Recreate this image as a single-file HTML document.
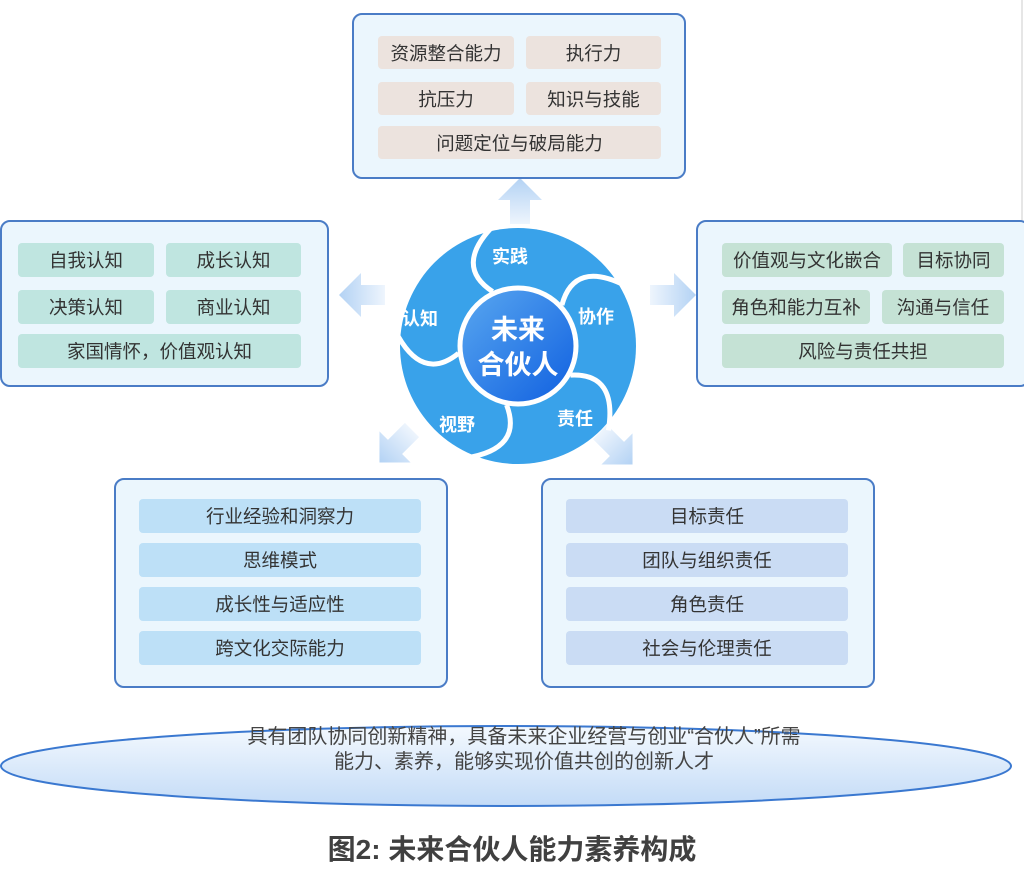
<!DOCTYPE html>
<html><head><meta charset="utf-8"><style>
body{margin:0;width:1024px;height:869px;background:#fff;position:relative;overflow:hidden;font-family:"Liberation Sans","Noto Sans CJK SC",sans-serif;}
.box{position:absolute;border:2px solid #4a7cc6;border-radius:10px;background:#ebf6fd;box-sizing:border-box;}
.c{position:absolute;border-radius:4px;font-size:18.5px;color:#333;display:flex;align-items:center;justify-content:center;}
.t{background:#ece3de}.l{background:#bfe5e0}.r{background:#c5e2d5}.bl{background:#bde0f7}.br{background:#cadcf4}
.txt{position:absolute;width:1024px;text-align:center;color:#444;}
</style></head><body>
<svg width="1024" height="869" style="position:absolute;left:0;top:0">
<defs>
<linearGradient id="ag" x1="0" y1="0" x2="0" y2="1"><stop offset="0" stop-color="#b3d2f4"/><stop offset="1" stop-color="#eef5fd"/></linearGradient>
<linearGradient id="cg" x1="0" y1="0" x2="1" y2="1"><stop offset="0" stop-color="#5aa8f0"/><stop offset="1" stop-color="#0f5fe0"/></linearGradient>
<linearGradient id="eg" x1="0" y1="0" x2="0" y2="1"><stop offset="0" stop-color="#f4f9fe"/><stop offset="1" stop-color="#c3dbf7"/></linearGradient>
<path id="arr" d="M-10 0 L-10 -24 L-22 -24 L0 -46 L22 -24 L10 -24 L10 0 Z" fill="url(#ag)"/>
</defs>
<ellipse cx="506" cy="766" rx="505" ry="40" fill="url(#eg)" stroke="#3a78d0" stroke-width="2"/>
<line x1="1022" y1="0" x2="1022" y2="220" stroke="#ccc" stroke-width="1"/>
<use href="#arr" transform="translate(520,224)"/>
<use href="#arr" transform="translate(385,295) rotate(-90)"/>
<use href="#arr" transform="translate(650,295) rotate(90)"/>
<use href="#arr" transform="translate(412,430) rotate(-135)"/>
<use href="#arr" transform="translate(600,432) rotate(135)"/>
<circle cx="518" cy="346" r="118" fill="#39a2ea"/>
<g stroke="#fff" stroke-width="5" fill="none" transform="translate(518,346)">
<g transform="rotate(-115)"><path d="M60 0 Q 100 -25 120 30"/></g>
<g transform="rotate(-43)"><path d="M60 0 Q 100 -25 120 30"/></g>
<g transform="rotate(29)"><path d="M60 0 Q 100 -25 120 30"/></g>
<g transform="rotate(101)"><path d="M60 0 Q 100 -25 120 30"/></g>
<g transform="rotate(173)"><path d="M60 0 Q 100 -25 120 30"/></g>
</g>
<circle cx="518" cy="346" r="58" fill="url(#cg)" stroke="#fff" stroke-width="5"/>
<g font-size="18" font-weight="bold" fill="#fff" text-anchor="middle" font-family="Liberation Sans,Noto Sans CJK SC,sans-serif">
<text x="510" y="263">实践</text><text x="596" y="323">协作</text><text x="575" y="425">责任</text><text x="457" y="431">视野</text><text x="420" y="325">认知</text>
<text x="518" y="339" font-size="27">未来</text><text x="518" y="374" font-size="27">合伙人</text>
</g>
</svg>
<div class="box" style="left:352px;top:13px;width:334px;height:166px"></div>
<div class="c t" style="left:378px;top:36px;width:136px;height:33px">资源整合能力</div>
<div class="c t" style="left:526px;top:36px;width:135px;height:33px">执行力</div>
<div class="c t" style="left:378px;top:82px;width:136px;height:33px">抗压力</div>
<div class="c t" style="left:526px;top:82px;width:135px;height:33px">知识与技能</div>
<div class="c t" style="left:378px;top:126px;width:283px;height:33px">问题定位与破局能力</div>

<div class="box" style="left:0;top:220px;width:329px;height:167px"></div>
<div class="c l" style="left:18px;top:243px;width:136px;height:34px">自我认知</div>
<div class="c l" style="left:166px;top:243px;width:135px;height:34px">成长认知</div>
<div class="c l" style="left:18px;top:290px;width:136px;height:34px">决策认知</div>
<div class="c l" style="left:166px;top:290px;width:135px;height:34px">商业认知</div>
<div class="c l" style="left:18px;top:334px;width:283px;height:34px">家国情怀，价值观认知</div>

<div class="box" style="left:696px;top:220px;width:334px;height:167px"></div>
<div class="c r" style="left:722px;top:243px;width:170px;height:34px">价值观与文化嵌合</div>
<div class="c r" style="left:903px;top:243px;width:101px;height:34px">目标协同</div>
<div class="c r" style="left:722px;top:290px;width:148px;height:34px">角色和能力互补</div>
<div class="c r" style="left:882px;top:290px;width:122px;height:34px">沟通与信任</div>
<div class="c r" style="left:722px;top:334px;width:282px;height:34px">风险与责任共担</div>

<div class="box" style="left:114px;top:478px;width:334px;height:210px"></div>
<div class="c bl" style="left:139px;top:499px;width:282px;height:34px">行业经验和洞察力</div>
<div class="c bl" style="left:139px;top:543px;width:282px;height:34px">思维模式</div>
<div class="c bl" style="left:139px;top:587px;width:282px;height:34px">成长性与适应性</div>
<div class="c bl" style="left:139px;top:631px;width:282px;height:34px">跨文化交际能力</div>

<div class="box" style="left:541px;top:478px;width:334px;height:210px"></div>
<div class="c br" style="left:566px;top:499px;width:282px;height:34px">目标责任</div>
<div class="c br" style="left:566px;top:543px;width:282px;height:34px">团队与组织责任</div>
<div class="c br" style="left:566px;top:587px;width:282px;height:34px">角色责任</div>
<div class="c br" style="left:566px;top:631px;width:282px;height:34px">社会与伦理责任</div>

<div class="txt" style="top:725px;font-size:20px;line-height:25px;left:12px">具有团队协同创新精神，具备未来企业经营与创业“合伙人”所需<br>能力、素养，能够实现价值共创的创新人才</div>
<div class="txt" style="top:828px;font-size:28px;font-weight:bold;color:#404040">图2: 未来合伙人能力素养构成</div>
</body></html>
